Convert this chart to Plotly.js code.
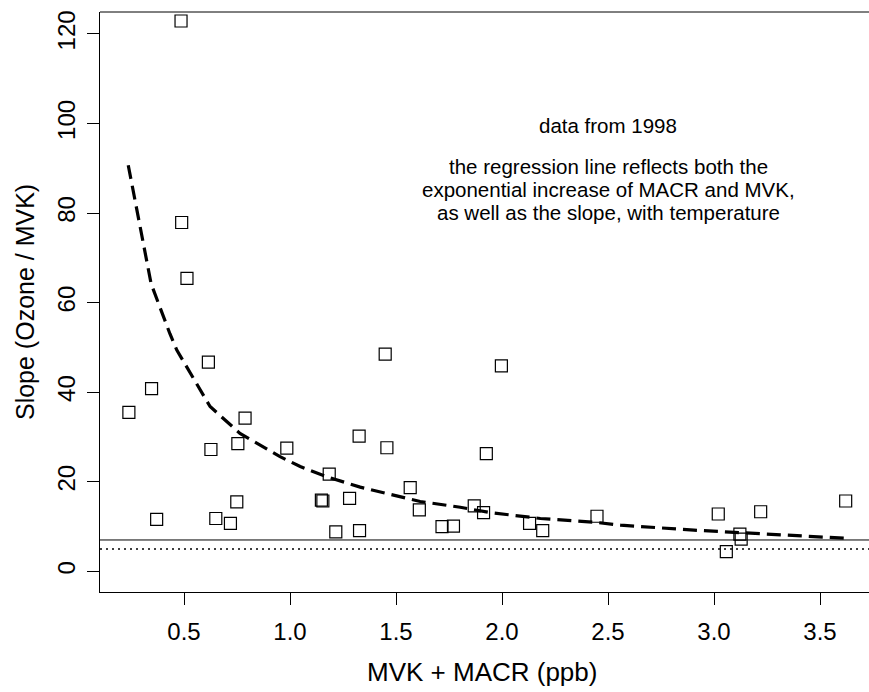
<!DOCTYPE html>
<html>
<head>
<meta charset="utf-8">
<script src="https://cdn.plot.ly/plotly-3.0.1.min.js"></script>
<style>html,body{margin:0;padding:0;overflow:hidden;background:#fff}</style>
</head>
<body>
<div id="chart" style="width:869px;height:692px"></div>
<script>
// Observations: MVK + MACR (ppb) vs slope (Ozone / MVK)
const pointX = [0.486,0.489,0.514,0.240,0.347,0.615,0.788,0.754,0.627,0.985,
                0.749,0.371,0.650,0.719,1.449,1.326,1.457,1.185,1.148,1.155,
                1.281,1.567,1.610,1.216,1.328,1.717,1.771,1.997,1.926,1.869,
                1.913,2.130,2.192,2.448,3.020,3.220,3.621,3.122,3.128,3.058];
const pointY = [122.9,77.9,65.4,35.5,40.8,46.7,34.2,28.5,27.2,27.5,
                15.5,11.6,11.8,10.7,48.5,30.2,27.6,21.7,15.9,15.7,
                16.3,18.7,13.7,8.8,9.1,10.0,10.1,45.9,26.3,14.6,
                13.1,10.7,9.1,12.3,12.8,13.3,15.7,8.3,7.2,4.4];
// Regression line
const fitX = [0.237,0.345,0.434,0.466,0.623,0.764,0.953,1.048,1.174,1.331,1.614,1.803,1.945,2.181,2.448,2.559,2.905,3.122,3.613];
const fitY = [90.7,64.2,53.0,49.4,36.8,30.8,25.6,23.4,21.1,18.8,15.6,14.3,13.1,11.8,10.9,10.3,9.2,8.6,7.4];
// Reference lines
const solidLevel = 7;
const dottedLevel = 5;
const xTicks = [0.5,1.0,1.5,2.0,2.5,3.0,3.5];
const xTickText = ["0.5","1.0","1.5","2.0","2.5","3.0","3.5"];
const yTicks = [0,20,40,60,80,100,120];
const yTickText = ["0","20","40","60","80","100","120"];
const noteLines = ["data from 1998",
                   "the regression line reflects both the",
                   "exponential increase of MACR and MVK,",
                   "as well as the slope, with temperature"];
const noteY = [99.6, 90.3, 85.2, 80.1];

const FONT = "Liberation Sans, Arial, Helvetica, sans-serif";
const FS = 24;
const xr = [0.1038, 3.731];
const yr = [-4.62, 124.91];

const traces = [
  {x: fitX, y: fitY, type: 'scatter', mode: 'lines',
   line: {color: '#000', width: 3.2, dash: '14px,7px'}, hoverinfo: 'skip'},
  {x: pointX, y: pointY, type: 'scatter', mode: 'markers',
   marker: {symbol: 'square-open', size: 12, color: '#000', line: {width: 1.2, color: '#000'}}}
];

const annotations = noteLines.map((t, i) => ({
  x: 2.5, y: noteY[i], xref: 'x', yref: 'y', text: t, showarrow: false,
  xanchor: 'center', yanchor: 'middle', font: {family: FONT, size: 20.5, color: '#000'}
}));
annotations.push({x: 0.497, y: -0.138, xref: 'paper', yref: 'paper', text: 'MVK + MACR (ppb)',
  showarrow: false, xanchor: 'center', yanchor: 'middle', font: {family: FONT, size: 26, color: '#000'}});
annotations.push({x: -0.0975, y: 0.5, xref: 'paper', yref: 'paper', text: 'Slope (Ozone / MVK)',
  showarrow: false, textangle: -90, xanchor: 'center', yanchor: 'middle', font: {family: FONT, size: 25, color: '#000'}});

const layout = {
  width: 869, height: 692,
  margin: {l: 100, r: 0, t: 12, b: 100, pad: 0},
  paper_bgcolor: '#fff', plot_bgcolor: '#fff',
  showlegend: false,
  font: {family: FONT, size: FS, color: '#000'},
  xaxis: {range: xr, showgrid: false, zeroline: false, showline: true, linecolor: '#000', linewidth: 1,
          ticks: 'outside', ticklen: 12, tickcolor: '#000', tickwidth: 1, ticklabelstandoff: 6,
          tickmode: 'array', tickvals: xTicks, ticktext: xTickText,
          tickfont: {family: FONT, size: FS, color: '#000'}},
  yaxis: {range: yr, showgrid: false, zeroline: false, showline: true, linecolor: '#000', linewidth: 1,
          ticks: 'outside', ticklen: 12, tickcolor: '#000', tickwidth: 1, ticklabelstandoff: 2,
          tickmode: 'array', tickvals: yTicks, ticktext: yTickText, tickangle: -90,
          tickfont: {family: FONT, size: FS, color: '#000'}},
  shapes: [
    {type: 'line', xref: 'paper', yref: 'y', x0: 0, x1: 1, y0: solidLevel, y1: solidLevel, line: {color: '#000', width: 1}},
    {type: 'line', xref: 'paper', yref: 'y', x0: 0, x1: 1, y0: dottedLevel, y1: dottedLevel, line: {color: '#000', width: 1.5, dash: '2px,4px'}},
    {type: 'line', xref: 'paper', yref: 'paper', x0: 0, x1: 1, y0: 1, y1: 1, line: {color: '#000', width: 1}}
  ],
  annotations: annotations
};

Plotly.newPlot('chart', traces, layout, {displayModeBar: false, staticPlot: true});
</script>
</body>
</html>
